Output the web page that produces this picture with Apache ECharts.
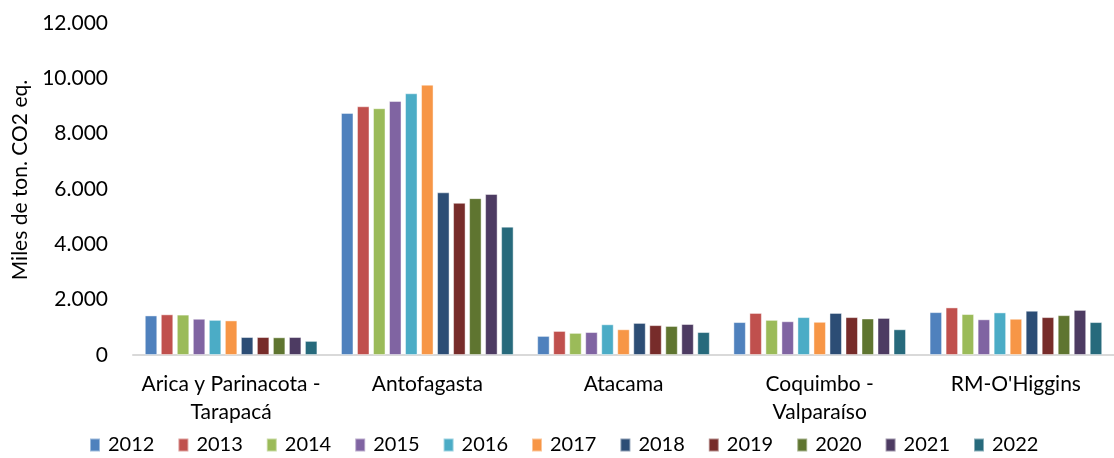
<!DOCTYPE html>
<html>
<head>
<meta charset="utf-8">
<script src="https://cdn.jsdelivr.net/npm/echarts@6/dist/echarts.min.js"></script>
<style>
  html, body { margin: 0; padding: 0; background: #fff; }
  #chart { width: 1114px; height: 458px; }
</style>
</head>
<body>
<div id="chart"></div>
<script>
// regiones (eje x)
const regiones = ['Arica y Parinacota -\nTarapacá', 'Antofagasta', 'Atacama', 'Coquimbo -\nValparaíso', "RM-O'Higgins"]
const anios = ['2012', '2013', '2014', '2015', '2016', '2017', '2018', '2019', '2020', '2021', '2022']
const colores = ['#4F81BD', '#C0504D', '#9BBB59', '#8064A2', '#4BACC6', '#F79646', '#2C4D75', '#772C2A', '#5F7530', '#4D3B62', '#276A7C']

// miles de ton. CO2 eq., un arreglo por año (orden de regiones)
const v2012 = [1430, 8750, 690, 1190, 1550]
const v2013 = [1470, 8990, 870, 1520, 1720]
const v2014 = [1460, 8920, 800, 1270, 1480]
const v2015 = [1310, 9180, 830, 1220, 1290]
const v2016 = [1270, 9460, 1110, 1370, 1540]
const v2017 = [1250, 9770, 930, 1200, 1310]
const v2018 = [650, 5880, 1160, 1520, 1600]
const v2019 = [650, 5500, 1080, 1370, 1370]
const v2020 = [640, 5670, 1050, 1320, 1440]
const v2021 = [650, 5820, 1120, 1340, 1630]
const v2022 = [510, 4640, 830, 930, 1190]
const valores = [v2012, v2013, v2014, v2015, v2016, v2017, v2018, v2019, v2020, v2021, v2022]

const yMax = 12000
const yPaso = 2000

const fmt = v => String(v).replace(/\B(?=(\d{3})+(?!\d))/g, '.')

const chart = echarts.init(document.getElementById('chart'))
const fuente = 'Lato'

chart.setOption({
  animation: false,
  textStyle: { fontFamily: fuente },
  grid: { left: 133, right: -9, top: 23, bottom: 103, containLabel: false },
  legend: {
    left: 84, top: 430,
    itemWidth: 10, itemHeight: 13, itemGap: 23,
    icon: 'rect',
    textStyle: { fontFamily: fuente, fontSize: 20, color: '#000', padding: [0, 0, 0, 3] },
    data: anios
  },
  xAxis: {
    type: 'category',
    data: regiones,
    axisLine: { lineStyle: { color: '#d9d9d9', width: 2 } },
    axisTick: { show: false },
    axisLabel: { fontFamily: fuente, fontSize: 21, color: '#000', margin: 15, lineHeight: 28, interval: 0 }
  },
  yAxis: {
    type: 'value',
    min: 0, max: yMax, interval: yPaso,
    name: 'Miles de ton. CO2 eq.',
    nameLocation: 'middle',
    nameGap: 102,
    nameTextStyle: { fontFamily: fuente, fontSize: 21, color: '#000', padding: [0, 0, 0, 18] },
    axisLine: { show: false },
    axisTick: { show: false },
    splitLine: { show: false },
    axisLabel: { fontFamily: fuente, fontSize: 21, color: '#000', margin: 25, formatter: fmt }
  },
  series: anios.map((a, i) => ({
    name: a,
    type: 'bar',
    data: valores[i],
    barGap: '28%',
    barCategoryGap: '12%',
    itemStyle: { color: colores[i], borderColor: 'rgba(255,255,255,0.45)', borderWidth: 1 }
  }))
})
</script>
</body>
</html>
